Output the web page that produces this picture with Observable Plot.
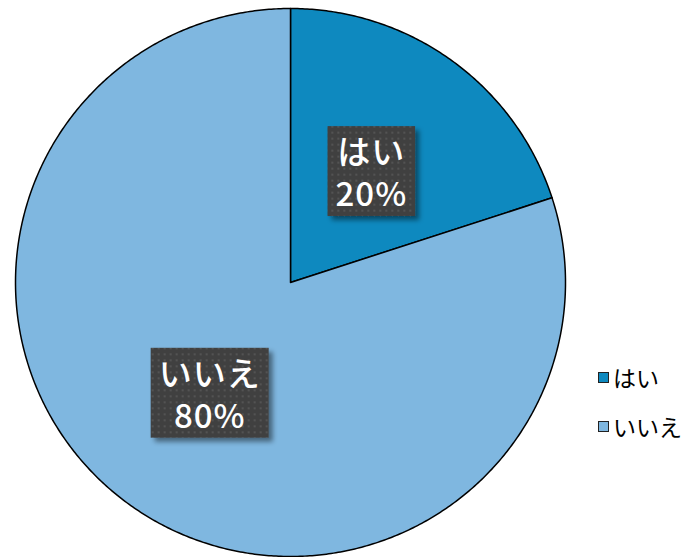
<!DOCTYPE html>
<html>
<head>
<meta charset="utf-8">
<script src="https://cdn.jsdelivr.net/npm/d3@7"></script>
<script src="https://cdn.jsdelivr.net/npm/@observablehq/plot@0.6"></script>
<style>
  html, body { margin: 0; padding: 0; background: #fff; }
  #wrap { position: relative; width: 684px; height: 557px; overflow: hidden; }
  #legend { position: absolute; left: 598px; top: 362px; font-family: "Noto Sans CJK JP", sans-serif; font-size: 23px; color: #000; }
  #legend .item { display: flex; align-items: center; height: 30px; margin-bottom: 19px; }
  #legend .sw { width: 9px; height: 9px; border: 1.3px solid #222; margin-right: 4px; }
</style>
</head>
<body>
<div id="wrap"><div id="legend"></div></div>
<script>
const categories = ["はい", "いいえ"];
const values = [20, 80];
const colors = ["#0E89BF", "#7FB7E0"];

const pie = d3.pie().sort(null).value(d => d.value)(categories.map((c, i) => ({key: c, value: values[i]})));
const total = d3.sum(values);

// polygon vertices for each slice, in unit-circle coordinates (y up)
const pts = [];
for (const s of pie) {
  pts.push({key: s.data.key, x: 0, y: 0});
  const n = Math.max(2, Math.ceil((s.endAngle - s.startAngle) / (Math.PI / 360)));
  for (let k = 0; k <= n; k++) {
    const a = s.startAngle + (s.endAngle - s.startAngle) * k / n;
    pts.push({key: s.data.key, x: Math.sin(a), y: Math.cos(a)});
  }
}
const labels = pie.map(s => {
  const a = (s.startAngle + s.endAngle) / 2;
  return {key: s.data.key, x: 0.5 * Math.sin(a), y: 0.5 * Math.cos(a),
          text: `${s.data.key}\n${Math.round(100 * s.data.value / total)}%`};
});

const chart = Plot.plot({
  width: 684,
  height: 557,
  margin: 0,
  x: {domain: [-1, 1], range: [15, 565], axis: null},
  y: {domain: [-1, 1], range: [556, 8], axis: null},
  color: {domain: categories, range: colors},
  marks: [
    Plot.line(pts, {x: "x", y: "y", z: "key", fill: "key", stroke: "#000", strokeWidth: 1.5, curve: "linear-closed"}),
    Plot.text(labels, {x: "x", y: "y", text: "text", fill: "#fff", fontSize: 33, lineHeight: 1.27,
      fontFamily: "'Noto Sans CJK JP', sans-serif", fontWeight: 500, className: "pie-label"})
  ]
});
document.getElementById("wrap").prepend(chart);

// label boxes: dotted dark fill with drop shadow
const svg = d3.select(chart);
svg.selectAll("g.pie-label text").style("letter-spacing", "1px");
const defs = svg.insert("defs", ":first-child");
const pat = defs.append("pattern").attr("id", "dots").attr("patternUnits", "userSpaceOnUse").attr("width", 6).attr("height", 6);
pat.append("rect").attr("width", 6).attr("height", 6).attr("fill", "#404040");
pat.append("rect").attr("x", 2).attr("y", 2).attr("width", 2).attr("height", 2).attr("fill", "#535353");
const f = defs.append("filter").attr("id", "shadow").attr("x", "-20%").attr("y", "-20%").attr("width", "150%").attr("height", "150%");
f.append("feDropShadow").attr("dx", 4).attr("dy", 4).attr("stdDeviation", 2.5).attr("flood-color", "#000").attr("flood-opacity", 0.45);

svg.selectAll("g.pie-label text").each(function() {
  const b = this.getBBox();
  const padX = 8, padY = 0;
  d3.select(this.parentNode).insert("rect", () => this)
    .attr("transform", this.getAttribute("transform"))
    .attr("x", b.x - padX).attr("y", b.y - padY)
    .attr("width", b.width + 2 * padX).attr("height", b.height + 2 * padY)
    .attr("fill", "url(#dots)").attr("filter", "url(#shadow)");
});

// legend
const lg = d3.select("#legend");
categories.forEach((c, i) => {
  const it = lg.append("div").attr("class", "item");
  it.append("div").attr("class", "sw").style("background", colors[i]);
  it.append("span").text(c);
});
</script>
</body>
</html>
